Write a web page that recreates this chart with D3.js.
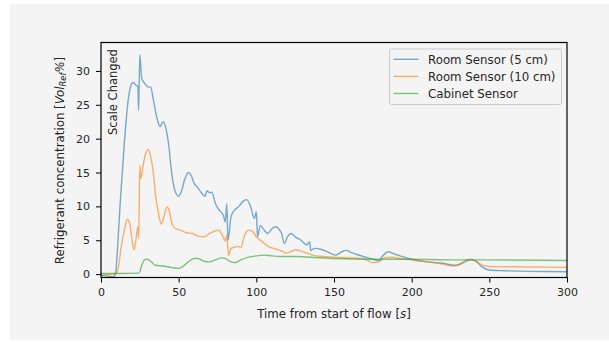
<!DOCTYPE html>
<html>
<head>
<meta charset="utf-8">
<script src="https://cdn.jsdelivr.net/npm/d3@7"></script>
<style>
  body { margin: 0; background: #fff; }
  text { font-family: "DejaVu Sans", sans-serif; fill: #262626; }
</style>
</head>
<body>
<svg id="chart" width="609" height="342"></svg>
<script>
// time [s] and readings
const roomT5 = [0, 4, 8, 9.5, 10, 12.5, 15, 17.5, 20, 21, 22.5, 23.75, 24.2, 25, 26.25, 28, 30, 32, 33.75, 36.25, 38, 40, 42, 43.75, 45, 47.5, 50, 52, 53.75, 56.25, 58, 60, 62.5, 65, 67, 68.25, 70, 71.25, 73.75, 76.25, 78.75, 80, 81, 81.75, 83.75, 86.25, 88.75, 91.25, 93.75, 96.25, 98.75, 100, 100.75, 102.5, 105, 107.5, 110, 112.5, 115, 116.25, 118, 120, 122.5, 125, 128.75, 132.5, 134.25, 135, 137.5, 142.5, 147.5, 151, 155, 158, 161, 167.5, 175, 179, 181, 185, 187.5, 192.5, 200, 210, 220, 227.5, 232.5, 237.5, 241, 245, 250, 260, 275, 300];
const roomV5 = [-0.2, -0.3, -0.4, 0.2, 1.6, 11, 19.3, 25.7, 28.2, 28.3, 27.9, 27.7, 24.2, 32.4, 28.9, 28.2, 27.7, 27.6, 25.7, 22.8, 21.8, 22.5, 21.3, 18.8, 15.9, 12.4, 11.5, 12.4, 13.9, 15.0, 14.6, 13.4, 12.7, 11.9, 11.5, 12.3, 12.0, 12.1, 10.4, 9.4, 8.7, 7.7, 10.4, 5.0, 8.5, 9.5, 10.0, 10.7, 11.0, 10.0, 8.2, 9.2, 5.5, 7.2, 6.5, 6.0, 6.7, 7.0, 6.5, 6.0, 4.5, 5.5, 6.0, 5.5, 5.0, 4.3, 4.8, 3.5, 3.8, 3.6, 3.1, 2.8, 3.3, 3.5, 3.2, 2.7, 2.2, 2.0, 2.6, 3.3, 3.1, 2.7, 2.2, 1.8, 1.6, 1.3, 1.6, 2.1, 2.0, 1.1, 0.6, 0.5, 0.4, 0.35];

const roomT10 = [0, 5, 9.5, 11.25, 13, 15, 17, 18.25, 20, 21.25, 22.5, 23.75, 24.25, 25, 25.75, 27, 28.75, 30.5, 32, 33.75, 35, 37, 38.75, 40.5, 42.5, 43.75, 45.75, 48, 51.25, 55, 58.75, 62.5, 66.25, 70, 73.75, 75.75, 78, 80, 81, 82, 83.75, 86.25, 88.25, 90, 92.5, 95, 97.5, 100, 103.75, 107.5, 111.25, 115, 117.5, 118.75, 121.25, 125, 128.75, 132.5, 136.25, 142.5, 150, 160, 170, 175, 178.75, 182.5, 187.5, 192.5, 200, 210, 220, 226, 230, 235, 238.75, 242.5, 247.5, 252.5, 300];
const roomV10 = [0, -0.1, 0.1, 1.1, 4.0, 6.5, 8.1, 7.7, 5.0, 3.6, 5.0, 7.0, 5.3, 16.0, 14.1, 15.9, 17.8, 18.4, 17.3, 14.9, 11.9, 9.0, 7.4, 8.5, 9.9, 9.5, 7.4, 6.7, 6.5, 6.1, 6.0, 5.6, 5.5, 6.0, 6.4, 6.5, 5.8, 4.9, 5.8, 2.8, 3.8, 4.0, 4.1, 3.9, 5.8, 6.5, 6.3, 5.5, 4.8, 4.1, 3.8, 3.5, 3.3, 3.1, 3.2, 3.6, 3.4, 3.1, 2.8, 2.6, 2.5, 2.4, 2.2, 1.7, 1.8, 2.4, 2.5, 2.3, 2.1, 1.8, 1.5, 1.2, 1.3, 2.1, 2.2, 1.7, 1.2, 1.1, 1.0];

const cabT = [0, 12, 24, 25, 26.25, 28, 30, 32.5, 35, 40, 45, 50, 52.5, 56.25, 60, 62.5, 66.25, 70, 73.75, 77.5, 80, 83.75, 86.25, 90, 95, 100, 105, 110, 115, 125, 135, 150, 175, 200, 225, 250, 300];
const cabV = [0.1, 0.1, 0.15, 0.35, 1.3, 2.1, 2.2, 1.8, 1.3, 1.2, 1.0, 0.85, 1.1, 1.8, 2.3, 2.3, 1.9, 1.8, 2.1, 2.4, 2.3, 1.8, 1.7, 2.1, 2.5, 2.7, 2.8, 2.7, 2.6, 2.6, 2.5, 2.3, 2.2, 2.2, 2.1, 2.1, 2.0];

const seriesNames = ["Room Sensor (5 cm)", "Room Sensor (10 cm)", "Cabinet Sensor"];
const xTicks = [0, 50, 100, 150, 200, 250, 300];
const yTicks = [0, 5, 10, 15, 20, 25, 30];

const colors = ["#1f77b4", "#ff7f0e", "#2ca02c"];
const series = [
  { name: seriesNames[0], t: roomT5, v: roomV5 },
  { name: seriesNames[1], t: roomT10, v: roomV10 },
  { name: seriesNames[2], t: cabT, v: cabV }
];

const svg = d3.select('#chart');
svg.append('rect').attr('x', 10).attr('y', 4).attr('width', 599).attr('height', 336).attr('fill', '#f4f4f4');

const m = { left: 101, right: 567, top: 42.5, bottom: 277.5 };
const x = d3.scaleLinear().domain([0, 300]).range([m.left, m.right]);
const y = d3.scaleLinear().domain([-0.5, 34.2]).range([m.bottom, m.top]);

const plot = svg.append('g');
plot.append('clipPath').attr('id', 'clip')
  .append('rect').attr('x', m.left).attr('y', m.top).attr('width', m.right - m.left).attr('height', m.bottom - m.top);

const line = d3.line()
  .x(d => x(d[0]))
  .y(d => y(d[1]))
  .curve(d3.curveMonotoneX);

series.forEach((s, i) => {
  plot.append('path')
    .datum(s.t.map((t, j) => [t, s.v[j]]))
    .attr('clip-path', 'url(#clip)')
    .attr('fill', 'none')
    .attr('stroke', colors[i])
    .attr('stroke-opacity', 0.6)
    .attr('stroke-width', 1.4)
    .attr('d', line);
});

// axes
const xAxis = d3.axisBottom(x).tickValues(xTicks).tickSize(5).tickPadding(6);
const yAxis = d3.axisLeft(y).tickValues(yTicks).tickSize(5).tickPadding(6);

const gx = svg.append('g').attr('transform', `translate(0,${m.bottom})`).call(xAxis);
const gy = svg.append('g').attr('transform', `translate(${m.left},0)`).call(yAxis);
[gx, gy].forEach(g => {
  g.select('.domain').remove();
  g.selectAll('.tick line').attr('stroke', '#000').attr('stroke-width', 1);
  g.selectAll('.tick text').style('font-family', '"DejaVu Sans", sans-serif').style('font-size', '11px').attr('fill', '#262626');
});

svg.append('rect')
  .attr('x', m.left).attr('y', m.top)
  .attr('width', m.right - m.left).attr('height', m.bottom - m.top)
  .attr('fill', 'none').attr('stroke', '#000').attr('stroke-width', 1.2);

// axis labels
const xl = svg.append('text')
  .attr('x', (m.left + m.right) / 2).attr('y', 317.5)
  .attr('text-anchor', 'middle')
  .style('font-size', '11.8px');
xl.append('tspan').text('Time from start of flow [');
xl.append('tspan').style('font-style', 'italic').text('s');
xl.append('tspan').text(']');

const yl = svg.append('text')
  .attr('transform', 'translate(63.5,160.5) rotate(-90)')
  .attr('text-anchor', 'middle')
  .style('font-size', '11.8px');
yl.append('tspan').text('Refrigerant concentration [');
yl.append('tspan').style('font-style', 'italic').text('Vol');
yl.append('tspan').style('font-style', 'italic').style('font-size', '8.3px').attr('dy', 2.8).text('Ref');
yl.append('tspan').style('font-style', 'italic').attr('dy', -2.8).text('%');
yl.append('tspan').text(']');

// annotation
svg.append('text')
  .attr('transform', 'translate(116.8,135) rotate(-90)')
  .style('font-size', '11.5px')
  .text('Scale Changed');

// legend
const lg = svg.append('g');
lg.append('rect')
  .attr('x', 389.5).attr('y', 49)
  .attr('width', 172).attr('height', 55.5)
  .attr('rx', 2)
  .attr('fill', '#f4f4f4').attr('stroke', '#cccccc').attr('stroke-width', 1);
seriesNames.forEach((n, i) => {
  const cy = 59.3 + i * 17.1;
  lg.append('line')
    .attr('x1', 393.5).attr('x2', 418.5).attr('y1', cy).attr('y2', cy)
    .attr('stroke', colors[i]).attr('stroke-opacity', 0.6).attr('stroke-width', 1.4);
  lg.append('text')
    .attr('x', 428).attr('y', cy + 4.3)
    .style('font-size', '11.8px')
    .text(n);
});
</script>
</body>
</html>
